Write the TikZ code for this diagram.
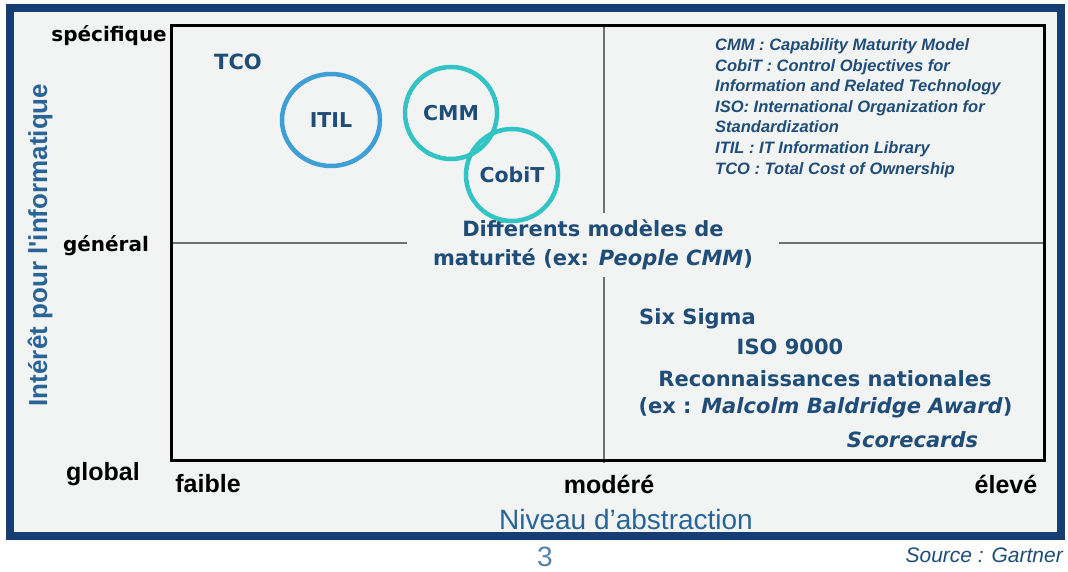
\documentclass[tikz,border=0pt]{standalone}
\usepackage{fontspec}
\setmainfont{DejaVu Sans}
\newfontfamily\arialfont{Liberation Sans}
\usetikzlibrary{positioning,shapes.geometric}
\definecolor{framenavy}{RGB}{22,62,112}
\definecolor{panelgrey}{RGB}{242,244,244}
\definecolor{inkblue}{RGB}{31,77,120}
\definecolor{axisblue}{RGB}{40,100,152}
\definecolor{itilblue}{RGB}{64,158,214}
\definecolor{ringteal}{RGB}{50,196,196}
\definecolor{crossgrey}{RGB}{112,112,112}
\tikzset{
  edgelabel/.style={font=\fontsize{20}{24}\selectfont\bfseries, text=black, inner sep=0pt},
  scalelabel/.style={font=\arialfont\fontsize{25}{30}\selectfont\bfseries, text=black, inner sep=0pt},
  axistitle/.style={font=\arialfont\fontsize{28}{32}\selectfont, text=axisblue, inner sep=0pt},
  modeltext/.style={font=\fontsize{21}{29}\selectfont\bfseries, text=inkblue, inner sep=0pt, align=center},
  ringnode/.style={circle, draw=ringteal, line width=4.5pt, minimum size=92pt, inner sep=0pt, font=\fontsize{20.5}{24}\selectfont\bfseries, text=inkblue},
  itilnode/.style={ringnode, ellipse, draw=itilblue, minimum width=98pt, minimum height=92pt},
  legendtext/.style={font=\arialfont\fontsize{16.5}{20.6}\selectfont\bfseries\itshape, text=inkblue, align=left, inner sep=0pt},
  crossline/.style={line width=2.5pt, draw=crossgrey}
}

\begin{document}
\begin{tikzpicture}[x=1pt, y=-1pt]
  \useasboundingbox[fill=white] (0,0) rectangle (1068,572);
  \draw[line width=8pt, draw=framenavy, fill=panelgrey] (9.5,8.5) rectangle (1061,536);

  % quadrant lines and frame
  \draw[crossline] (604,26) -- (604,463);
  \draw[crossline] (171,243) -- (1044,243);
  \draw[line width=3pt] (171,26) rectangle (1044,460);

  % axes
  \node[edgelabel, anchor=east] (spec) at (167,36) {spécifique};
  \node[edgelabel] (gen) at (106,246) {général};
  \node[scalelabel] (glob) at (103,474) {global};
  \node[scalelabel] (low) at (208,484) {faible};
  \node[scalelabel] (mid) at (609,484) {modéré};
  \node[scalelabel] (high) at (1006,484) {élevé};
  \node[axistitle] (xtitle) at (626,519) {Niveau d’abstraction};
  \node[axistitle, font=\arialfont\fontsize{26}{30}\selectfont\bfseries, rotate=90] (ytitle) at (40,245) {Intérêt pour l'informatique};

  % models
  \node[modeltext, fill=panelgrey, inner xsep=26pt, inner ysep=7pt] (maturity) at (593,245)
    {Différents modèles de\\maturité (ex: \textit{People CMM})};
  \node[modeltext] (tco) at (238,62) {TCO};
  \node[itilnode] (itil) at (331,120) {ITIL};
  \node[ringnode] (cmm) at (451,113) {CMM};
  \node[ringnode] (cobit) at (512,175) {CobiT};
  \node[modeltext] (sigma) at (697.5,319) {Six Sigma};
  \node[modeltext] (iso) at (790,347) {ISO 9000};
  \node[modeltext] (natl) at (825,379) {Reconnaissances nationales};
  \node[modeltext] (baldrige) at (825.5,408) {(ex : \textit{Malcolm Baldridge Award})};
  \node[modeltext, font=\fontsize{21}{29}\selectfont\bfseries\itshape] (score) at (912.5,440) {Scorecards};

  \node[legendtext, anchor=west] (legend) at (715,108)
    {CMM : Capability Maturity Model\\
     CobiT : Control Objectives for\\
     Information and Related Technology\\
     ISO: International Organization for\\
     Standardization\\
     ITIL : IT Information Library\\
     TCO : Total Cost of Ownership};

  % footer
  \node[axistitle, text=axisblue!80!white] (page) at (545,557) {3};
  \node[axistitle, anchor=east, font=\arialfont\fontsize{21}{25}\selectfont\itshape, text=inkblue] (source) at (1063,555) {Source : Gartner};
\end{tikzpicture}
\end{document}
